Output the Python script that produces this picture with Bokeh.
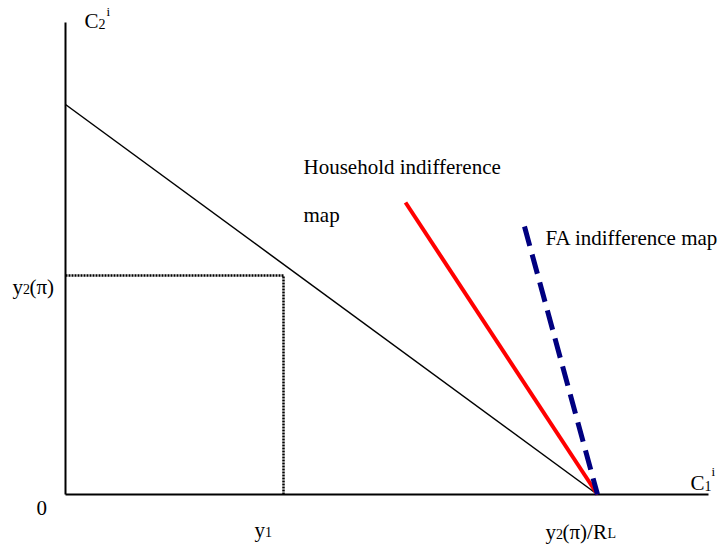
from bokeh.plotting import figure
from bokeh.models import Range1d
from bokeh.core.properties import value
from bokeh.embed import file_html
from bokeh.resources import INLINE

# Axes (data units)
axis_v_x = [0, 0]
axis_v_y = [472, 0]
axis_h_x = [0, 643]
axis_h_y = [0, 0]

# Budget line
budget_x = [0, 532]
budget_y = [390, 0]

# Endowment point (y1, y2(pi))
endow_x = [0, 218, 218]
endow_y = [219, 219, 0]

# Household indifference map (red)
hh_x = [340, 532]
hh_y = [292, 0]

# FA indifference map (blue dashed)
fa_x = [459, 532]
fa_y = [268, 0]

FONT = "'Liberation Serif', 'Times New Roman', serif"

p = figure(width=723, height=548, output_backend="svg", toolbar_location=None,
           x_range=Range1d(-65, 658), y_range=Range1d(-54, 494), min_border=0)
p.axis.visible = False
p.grid.visible = False
p.outline_line_color = None
p.background_fill_color = "white"

p.line(axis_v_x, axis_v_y, line_color="black", line_width=2)
p.line(axis_h_x, axis_h_y, line_color="black", line_width=2)
p.line(budget_x, budget_y, line_color="black", line_width=1.5)
p.line(endow_x, endow_y, line_color="black", line_width=2.5, line_dash="2 1")
p.line(hh_x, hh_y, line_color="#ff0000", line_width=4)
p.line(fa_x, fa_y, line_color="#000080", line_width=5, line_dash="20 9")

DY = 6

def txt(x, y, s, size):
    p.text(x=[x], y=[y + DY], text=[s], text_font=value(FONT), text_font_size=f"{size}px",
           text_align="left", text_baseline="alphabetic", text_color="black")

# C2^i label
txt(19, 468, "C", 21)
txt(33, 465, "2", 14)
txt(41, 477, "i", 13)

# y2(pi)
txt(-53, 202, "y", 21)
txt(-42.5, 200, "2", 14)
txt(-36, 202, "(π)", 21)

# 0
txt(-29, -19, "0", 21)

# y1
txt(189, -41, "y", 21)
txt(199.5, -43, "1", 14)

# y2(pi)/RL
txt(480, -43, "y", 21)
txt(490.5, -45, "2", 14)
txt(497, -43, "(π)/R", 21)
txt(542, -45, "L", 14)

# C1^i
txt(625, 6, "C", 21)
txt(639, 3, "1", 14)
txt(646, 17, "i", 13)

# Annotations
txt(238, 322, "Household indifference", 21)
txt(238, 274, "map", 21)
txt(480, 251, "FA indifference map", 21)

open("out.html", "w").write(file_html(p, INLINE))
